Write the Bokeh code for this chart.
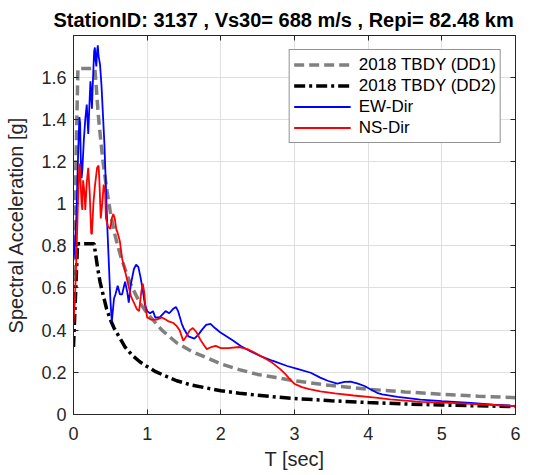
from bokeh.plotting import figure
from bokeh.models import Range1d, LinearAxis, FixedTicker, Legend, LegendItem
from bokeh.embed import file_html
from bokeh.resources import INLINE

TITLE = "StationID: 3137 , Vs30= 688 m/s , Repi= 82.48 km"
X_LABEL = "T [sec]"
Y_LABEL = "Spectral Acceleration [g]"

x_ticks = [0, 1, 2, 3, 4, 5, 6]
x_tick_labels = ["0", "1", "2", "3", "4", "5", "6"]
y_ticks = [0, 0.2, 0.4, 0.6, 0.8, 1, 1.2, 1.4, 1.6]
y_tick_labels = ["0", "0.2", "0.4", "0.6", "0.8", "1", "1.2", "1.4", "1.6"]

# 2018 TBDY design spectrum (DD1)
t_dd1 = [0, 0.06, 0.29, 0.31, 0.33, 0.35, 0.37, 0.40, 0.45, 0.50, 0.55, 0.60, 0.65, 0.70,
         0.75, 0.80, 0.90, 1.0, 1.1, 1.2, 1.4, 1.6, 1.8, 2.0, 2.25, 2.5, 2.75, 3.0, 3.5,
         4.0, 4.5, 5.0, 5.5, 6.0]
sa_dd1 = [0.66, 1.64, 1.64, 1.55, 1.45, 1.37, 1.30, 1.20, 1.07, 0.96, 0.87, 0.80, 0.74, 0.69,
          0.64, 0.60, 0.53, 0.48, 0.44, 0.40, 0.34, 0.30, 0.27, 0.24, 0.213, 0.19, 0.175, 0.16,
          0.137, 0.12, 0.107, 0.096, 0.087, 0.08]

# 2018 TBDY design spectrum (DD2)
t_dd2 = [0, 0.055, 0.28, 0.30, 0.33, 0.36, 0.40, 0.45, 0.50, 0.55, 0.60, 0.65, 0.70, 0.80,
         0.90, 1.0, 1.1, 1.2, 1.4, 1.6, 1.8, 2.0, 2.25, 2.5, 2.75, 3.0, 3.5, 4.0, 4.5, 5.0,
         5.5, 6.0]
sa_dd2 = [0.32, 0.81, 0.81, 0.76, 0.69, 0.63, 0.57, 0.50, 0.45, 0.41, 0.38, 0.35, 0.32, 0.28,
          0.25, 0.227, 0.206, 0.19, 0.16, 0.14, 0.126, 0.113, 0.101, 0.091, 0.083, 0.076,
          0.065, 0.057, 0.05, 0.045, 0.041, 0.038]

# Recorded EW component
t_ew = [0.00, 0.02, 0.04, 0.06, 0.08, 0.09, 0.10, 0.11, 0.12, 0.14, 0.16, 0.18, 0.19, 0.20,
        0.22, 0.23, 0.24, 0.25, 0.26, 0.28, 0.29, 0.30, 0.31, 0.32, 0.33, 0.34, 0.36, 0.38,
        0.42, 0.46, 0.50, 0.52, 0.55, 0.57, 0.60, 0.63, 0.66, 0.70, 0.73, 0.75, 0.78, 0.82,
        0.85, 0.88, 0.91, 0.94, 0.97, 1.00, 1.04, 1.08, 1.11, 1.17, 1.25, 1.30, 1.35, 1.39,
        1.42, 1.47, 1.50, 1.56, 1.64, 1.70, 1.74, 1.80, 1.86, 1.92, 1.99, 2.08, 2.17, 2.27,
        2.40, 2.54, 2.70, 2.90, 3.05, 3.22, 3.35, 3.45, 3.58, 3.68, 3.76, 3.85, 3.95, 4.03,
        4.12, 4.19, 4.40, 4.71, 5.00, 5.39, 5.70, 6.00]
sa_ew = [0.74, 0.80, 0.95, 1.20, 1.41, 1.38, 1.20, 1.12, 1.16, 1.30, 1.40, 1.47, 1.40, 1.33,
         1.50, 1.58, 1.52, 1.45, 1.55, 1.72, 1.74, 1.68, 1.65, 1.72, 1.75, 1.70, 1.66, 1.56,
         1.28, 0.88, 0.55, 0.44, 0.55, 0.57, 0.61, 0.57, 0.57, 0.63, 0.58, 0.53, 0.62, 0.69,
         0.71, 0.70, 0.65, 0.59, 0.52, 0.49, 0.48, 0.49, 0.46, 0.46, 0.49, 0.48, 0.50, 0.51,
         0.49, 0.43, 0.405, 0.37, 0.36, 0.38, 0.40, 0.425, 0.43, 0.41, 0.39, 0.37, 0.35, 0.325,
         0.30, 0.277, 0.255, 0.23, 0.215, 0.198, 0.175, 0.16, 0.146, 0.155, 0.156, 0.148, 0.135,
         0.12, 0.103, 0.095, 0.084, 0.071, 0.063, 0.055, 0.047, 0.04]

# Recorded NS component
t_ns = [0.00, 0.02, 0.04, 0.06, 0.08, 0.09, 0.11, 0.12, 0.13, 0.15, 0.16, 0.18, 0.20, 0.22,
        0.24, 0.25, 0.27, 0.29, 0.32, 0.34, 0.35, 0.37, 0.39, 0.41, 0.43, 0.44, 0.47, 0.50,
        0.52, 0.54, 0.56, 0.58, 0.60, 0.63, 0.66, 0.70, 0.74, 0.78, 0.82, 0.86, 0.89, 0.92,
        0.94, 0.96, 0.98, 1.00, 1.05, 1.13, 1.20, 1.25, 1.30, 1.35, 1.40, 1.44, 1.49, 1.53,
        1.58, 1.62, 1.67, 1.72, 1.77, 1.81, 1.87, 1.93, 2.00, 2.10, 2.25, 2.36, 2.45, 2.54,
        2.62, 2.70, 2.81, 2.88, 2.94, 3.00, 3.10, 3.20, 3.35, 3.55, 3.80, 4.10, 4.30, 4.71,
        5.03, 5.39, 5.70, 6.00]
sa_ns = [0.43, 0.55, 0.75, 1.00, 1.19, 1.15, 1.00, 0.97, 1.11, 1.05, 0.97, 1.10, 1.17, 1.05,
         0.86, 0.855, 1.00, 1.08, 1.17, 1.18, 1.12, 0.93, 1.00, 1.09, 1.05, 0.93, 0.89, 0.88,
         0.93, 0.95, 0.93, 0.88, 0.86, 0.82, 0.74, 0.68, 0.62, 0.56, 0.53, 0.50, 0.49, 0.58,
         0.62, 0.58, 0.50, 0.46, 0.45, 0.45, 0.46, 0.45, 0.44, 0.435, 0.42, 0.40, 0.35, 0.37,
         0.40, 0.41, 0.39, 0.356, 0.33, 0.31, 0.32, 0.325, 0.315, 0.315, 0.32, 0.31, 0.295, 0.277,
         0.262, 0.245, 0.214, 0.19, 0.166, 0.145, 0.13, 0.12, 0.11, 0.10, 0.09, 0.08, 0.072, 0.06,
         0.056, 0.05, 0.045, 0.04]

FONT = "Liberation Sans"
AX_COLOR = "#262626"

p = figure(width=535, height=475, output_backend="svg", toolbar_location=None,
           x_range=Range1d(0, 6), y_range=Range1d(0, 1.797),
           min_border_left=73, min_border_right=20, min_border_top=35, min_border_bottom=61,
           title=TITLE)

p.title.text_font = FONT
p.title.text_font_size = "20px"
p.title.text_font_style = "bold"
p.title.text_color = "black"
p.title.align = "left"
p.title.standoff = 9
p.title.offset = -20

p.outline_line_color = AX_COLOR
p.outline_line_width = 1
p.background_fill_color = "white"
p.border_fill_color = "white"

# bottom / left axes
xa = p.xaxis[0]
ya = p.yaxis[0]
xa.ticker = FixedTicker(ticks=x_ticks)
ya.ticker = FixedTicker(ticks=y_ticks)
xa.major_label_overrides = dict(zip(x_ticks, x_tick_labels))
ya.major_label_overrides = dict(zip(y_ticks, y_tick_labels))
xa.axis_label = X_LABEL
ya.axis_label = Y_LABEL
for ax in (xa, ya):
    ax.axis_label_text_font = FONT
    ax.axis_label_text_font_size = "20px"
    ax.axis_label_text_font_style = "normal"
    ax.axis_label_text_color = AX_COLOR
    ax.major_label_text_font = FONT
    ax.major_label_text_font_size = "18px"
    ax.major_label_text_color = AX_COLOR
    ax.axis_line_color = AX_COLOR
    ax.major_tick_line_color = AX_COLOR
    ax.major_tick_in = 5
    ax.major_tick_out = 0
    ax.minor_tick_line_color = None
xa.major_label_standoff = 12
xa.axis_label_standoff = 5
ya.major_label_standoff = 7
ya.axis_label_standoff = 11

# top / right axes (ticks only, MATLAB box style)
def tick_only_axis(ticks):
    return LinearAxis(ticker=FixedTicker(ticks=ticks), major_label_text_font_size="1px",
                      major_label_text_color=None, major_label_standoff=0,
                      major_tick_in=5, major_tick_out=0,
                      minor_tick_line_color=None, axis_line_color=AX_COLOR,
                      major_tick_line_color=AX_COLOR)

p.add_layout(tick_only_axis(x_ticks), "above")
p.add_layout(tick_only_axis(y_ticks), "right")

p.xgrid.grid_line_color = "#dfdfdf"
p.ygrid.grid_line_color = "#dfdfdf"

r1 = p.line(t_dd1, sa_dd1, line_color="#808080", line_width=3.5, line_dash="10 5")
r2 = p.line(t_dd2, sa_dd2, line_color="#000000", line_width=3.5, line_dash="11 4 3 4")
r3 = p.line(t_ew, sa_ew, line_color="#0000ff", line_width=1.8)
r4 = p.line(t_ns, sa_ns, line_color="#ff0000", line_width=1.8)

legend = Legend(items=[LegendItem(label="2018 TBDY (DD1)", renderers=[r1]),
                       LegendItem(label="2018 TBDY (DD2)", renderers=[r2]),
                       LegendItem(label="EW-Dir", renderers=[r3]),
                       LegendItem(label="NS-Dir", renderers=[r4])],
                location="top_right", margin=14, padding=4, spacing=0,
                label_height=21, glyph_height=21, glyph_width=57, label_standoff=8,
                border_line_color=AX_COLOR, border_line_width=1,
                label_text_font=FONT, label_text_font_size="17px", label_text_color="black",
                background_fill_color="white", background_fill_alpha=1)
p.add_layout(legend)

open("out.html", "w").write(file_html(p, INLINE))
